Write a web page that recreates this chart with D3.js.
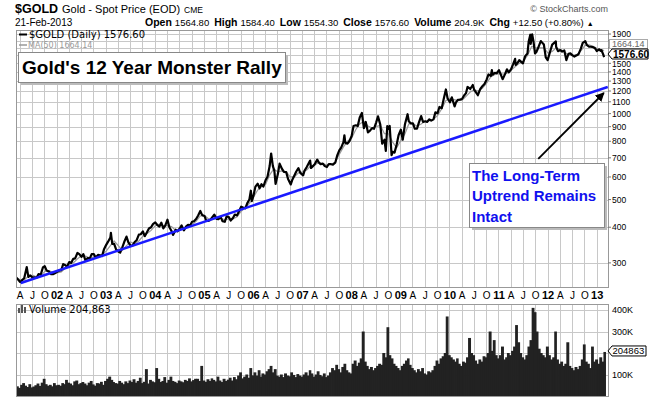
<!DOCTYPE html>
<html><head><meta charset="utf-8">
<script src="https://cdn.jsdelivr.net/npm/d3@7"></script>
<style>body{margin:0;background:#fff}svg{display:block}text{font-family:"Liberation Sans",Arial,sans-serif}</style>
</head><body><svg id="c" width="650" height="397"></svg>
<script>
// ---------- DATA ----------
const goldClose = [
["2001-03-01",267],["2001-03-15",263],["2001-04-01",257],["2001-04-15",261],["2001-05-01",265],["2001-05-20",290],["2001-06-01",268],["2001-06-15",271],["2001-07-01",267],["2001-07-15",267],["2001-08-01",266],["2001-08-15",274],["2001-09-01",273],["2001-09-17",289],["2001-10-01",292],["2001-10-15",282],["2001-11-01",280],["2001-11-15",274],["2001-12-01",274],["2001-12-15",276],
["2002-01-01",279],["2002-01-15",282],["2002-02-01",283],["2002-02-15",297],["2002-03-01",295],["2002-03-15",291],["2002-04-01",302],["2002-04-15",300],["2002-05-01",310],["2002-05-15",311],["2002-06-01",325],["2002-06-15",322],["2002-07-01",315],["2002-07-15",322],["2002-08-01",305],["2002-08-15",312],["2002-09-01",311],["2002-09-15",322],["2002-10-01",322],["2002-10-15",313],["2002-11-01",320],["2002-11-15",319],["2002-12-01",317],["2002-12-15",334],
["2003-01-01",347],["2003-01-15",356],["2003-02-01",368],["2003-02-05",382],["2003-02-15",350],["2003-03-01",350],["2003-03-15",335],["2003-04-01",329],["2003-04-15",326],["2003-05-01",340],["2003-05-15",355],["2003-06-01",371],["2003-06-15",354],["2003-07-01",345],["2003-07-15",345],["2003-08-01",355],["2003-08-15",360],["2003-09-01",377],["2003-09-15",378],["2003-10-01",387],["2003-10-15",372],["2003-11-01",385],["2003-11-15",396],["2003-12-01",400],["2003-12-15",410],
["2004-01-01",416],["2004-01-15",408],["2004-02-01",402],["2004-02-15",415],["2004-03-01",396],["2004-03-15",405],["2004-04-01",425],["2004-04-15",400],["2004-05-01",388],["2004-05-12",376],["2004-06-01",392],["2004-06-15",387],["2004-07-01",396],["2004-07-15",406],["2004-08-01",390],["2004-08-15",401],["2004-09-01",408],["2004-09-15",405],["2004-10-01",418],["2004-10-15",420],["2004-11-01",428],["2004-11-15",440],["2004-12-01",456],["2004-12-15",441],
["2005-01-01",438],["2005-01-15",421],["2005-02-01",421],["2005-02-15",425],["2005-03-01",434],["2005-03-15",443],["2005-04-01",428],["2005-04-15",427],["2005-05-01",435],["2005-05-15",420],["2005-06-01",418],["2005-06-15",437],["2005-07-01",434],["2005-07-15",422],["2005-08-01",431],["2005-08-15",443],["2005-09-01",440],["2005-09-15",455],["2005-10-01",472],["2005-10-15",469],["2005-11-01",466],["2005-11-15",485],["2005-12-01",500],["2005-12-12",537],["2005-12-20",494],
["2006-01-01",517],["2006-01-15",555],["2006-02-01",568],["2006-02-15",547],["2006-03-01",566],["2006-03-15",555],["2006-04-01",585],["2006-04-15",601],["2006-05-01",655],["2006-05-12",725],["2006-05-25",655],["2006-06-05",630],["2006-06-14",567],["2006-07-01",614],["2006-07-14",668],["2006-08-01",640],["2006-08-15",625],["2006-09-01",624],["2006-09-15",590],["2006-10-05",565],["2006-10-15",584],["2006-11-01",607],["2006-11-15",627],["2006-12-01",644],["2006-12-15",620],
["2007-01-05",608],["2007-01-15",630],["2007-02-01",650],["2007-02-26",685],["2007-03-05",645],["2007-03-15",652],["2007-04-01",665],["2007-04-20",690],["2007-05-01",675],["2007-05-15",665],["2007-06-01",668],["2007-06-15",655],["2007-07-01",650],["2007-07-15",666],["2007-08-01",665],["2007-08-15",663],["2007-09-01",673],["2007-09-15",712],["2007-10-01",743],["2007-10-15",760],["2007-11-01",795],["2007-11-08",840],["2007-11-15",790],["2007-12-01",785],["2007-12-15",800],
["2008-01-01",835],["2008-01-15",905],["2008-02-01",910],["2008-02-15",905],["2008-03-01",970],["2008-03-17",1005],["2008-04-01",890],["2008-04-15",935],["2008-05-01",860],["2008-05-15",870],["2008-06-01",890],["2008-06-15",885],["2008-07-01",930],["2008-07-15",978],["2008-08-01",915],["2008-08-15",785],["2008-09-01",810],["2008-09-11",740],["2008-09-22",905],["2008-10-01",885],["2008-10-10",905],["2008-10-24",715],["2008-11-01",735],["2008-11-15",730],["2008-12-01",780],["2008-12-15",840],
["2009-01-01",878],["2009-01-15",810],["2009-02-01",920],["2009-02-20",995],["2009-03-01",940],["2009-03-15",925],["2009-04-01",925],["2009-04-15",885],["2009-05-01",885],["2009-05-15",930],["2009-06-01",980],["2009-06-15",935],["2009-07-01",940],["2009-07-15",935],["2009-08-01",955],["2009-08-15",945],["2009-09-01",955],["2009-09-15",1010],["2009-10-01",1003],["2009-10-15",1055],["2009-11-01",1045],["2009-11-15",1120],["2009-12-02",1215],["2009-12-15",1130],
["2010-01-01",1096],["2010-01-15",1140],["2010-02-05",1060],["2010-02-15",1095],["2010-03-01",1118],["2010-03-15",1120],["2010-04-01",1125],["2010-04-15",1155],["2010-05-01",1180],["2010-05-12",1240],["2010-06-01",1220],["2010-06-20",1260],["2010-07-01",1210],["2010-07-28",1160],["2010-08-15",1220],["2010-09-01",1250],["2010-09-15",1270],["2010-10-01",1315],["2010-10-15",1372],["2010-11-01",1355],["2010-11-09",1420],["2010-11-15",1370],["2010-12-01",1390],["2010-12-15",1385],
["2011-01-01",1420],["2011-01-28",1320],["2011-02-15",1375],["2011-03-01",1430],["2011-03-15",1395],["2011-04-01",1430],["2011-04-15",1485],["2011-05-01",1555],["2011-05-05",1480],["2011-05-15",1495],["2011-06-01",1540],["2011-06-28",1500],["2011-07-15",1590],["2011-08-01",1625],["2011-08-10",1790],["2011-08-22",1890],["2011-08-25",1755],["2011-09-05",1895],["2011-09-15",1785],["2011-09-26",1625],["2011-10-05",1640],["2011-10-15",1680],["2011-11-08",1795],["2011-11-15",1780],["2011-12-01",1745],["2011-12-15",1575],["2011-12-29",1540],
["2012-01-15",1640],["2012-02-01",1745],["2012-02-28",1790],["2012-03-01",1715],["2012-03-15",1655],["2012-04-01",1670],["2012-04-15",1650],["2012-05-01",1665],["2012-05-16",1540],["2012-06-01",1620],["2012-06-15",1625],["2012-07-01",1600],["2012-07-15",1585],["2012-08-01",1600],["2012-08-15",1615],["2012-09-01",1690],["2012-09-15",1770],["2012-10-04",1795],["2012-10-15",1740],["2012-11-01",1715],["2012-11-15",1715],["2012-12-01",1710],["2012-12-15",1695],["2012-12-28",1657],
["2013-01-15",1680],["2013-01-25",1660],["2013-02-01",1670],["2013-02-15",1610],["2013-02-21",1576.6]
];
// 50-day moving average, one value per month start from Mar 2001, last value on 21-Feb-2013
const ma50Start = "2001-03-01";
const ma50 = [
265,262,261,270,272,268,270,280,282,278,
277,279,287,296,300,310,318,317,312,315,318,320,
330,345,358,345,332,345,355,350,358,372,380,390,
405,410,405,405,402,390,390,398,402,408,420,438,
440,428,425,432,430,425,428,428,435,455,468,485,
510,540,555,565,610,640,625,630,625,600,600,620,
625,635,655,660,675,668,660,665,675,720,765,800,
820,880,920,940,905,890,900,910,850,850,795,760,
805,850,920,920,905,920,940,945,955,985,1040,1110,
1130,1120,1110,1115,1150,1190,1210,1200,1230,1280,1345,1370,
1380,1375,1385,1420,1460,1500,1525,1600,1720,1700,1700,1700,
1630,1650,1700,1680,1650,1600,1600,1610,1660,1730,1740,1720,
1690,1672
];
const ma50Last = ["2013-02-21",1664.14];
// Volume (thousands), two values per month (1st & 16th) from Mar 2001
const volStart = "2001-03-01";
const volumeK = [
45,38,52,60,48,42,55,40,44,50,58,47,62,80,55,48,52,45,60,50,
52,48,60,55,75,62,58,50,68,72,55,60,65,58,50,62,70,54,48,60,58,66,52,70,
80,90,75,65,60,58,70,62,55,68,60,72,65,78,62,70,85,60,66,125,58,75,68,64,
130,80,65,70,88,62,75,90,70,66,60,72,68,64,75,70,82,68,74,80,80,70,140,72,
66,78,70,82,75,68,90,72,65,80,70,76,85,72,88,78,95,110,82,90,100,85,130,96,
110,95,120,90,105,100,115,125,140,110,125,95,90,100,88,105,95,92,110,98,88,102,95,90,
100,110,95,120,105,90,100,115,98,92,105,88,95,110,130,120,145,125,110,135,150,120,110,105,
150,165,140,155,175,300,160,140,125,135,120,130,140,150,145,200,180,320,190,175,150,140,130,120,
140,150,165,175,145,130,120,110,125,115,130,105,100,115,110,120,140,165,150,175,185,200,370,190,
180,170,160,175,150,140,160,155,180,270,200,190,165,150,170,160,185,180,200,300,210,260,190,175,
190,230,170,180,200,190,210,230,330,250,200,180,170,190,230,260,410,390,300,220,200,190,180,230,
190,170,180,300,170,150,160,140,150,250,140,130,120,135,125,140,170,240,160,150,130,230,160,170,
150,180,160,204.863
];
const priceGrid = [300,400,500,600,700,800,900,1000,1100,1200,1300,1400,1500,1600,1700,1800,1900];
const priceTickLabels = [300,400,500,600,700,800,900,1000,1100,1200,1300,1400,1500,1900];
const volGridK = [100,200,300,400];
const volTickK = [100,300,400];
const trendLine = [["2001-04-06",255],["2013-03-20",1240]];
const arrowLine = [["2011-10-20",694],["2013-02-19",1181]];
const titleText = "Gold's 12 Year Monster Rally";
const noteLines = ["The Long-Term","Uptrend Remains","Intact"];
const quote = [["Open","1564.80"],["High","1584.40"],["Low","1554.30"],["Close","1576.60"],["Volume","204.9K"],["Chg","+12.50 (+0.80%)"]];

// ---------- CHART ----------
const svg = d3.select("#c");
const parse = d3.timeParse("%Y-%m-%d");
const L = 16, R = 608, T = 30, B = 287, VT = 304, VB = 396;
const x = d3.scaleTime().domain([parse("2001-03-01"), parse("2013-03-22")]).range([L, R]);
const y = d3.scaleLog().domain([247, 1963]).range([B, T]);
const yv = d3.scaleLinear().domain([0, 428]).range([VB, VT]);

svg.append("rect").attr("width",650).attr("height",397).attr("fill","#fff");
const defs = svg.append("defs");
defs.append("clipPath").attr("id","cp").append("rect").attr("x",L).attr("y",T).attr("width",R-L).attr("height",B-T);
defs.append("clipPath").attr("id","cv").append("rect").attr("x",L).attr("y",VT).attr("width",R-L).attr("height",VB-VT);
const mk = defs.append("marker").attr("id","ah").attr("viewBox","0 0 10 10").attr("refX",9).attr("refY",5)
  .attr("markerWidth",5).attr("markerHeight",5).attr("orient","auto");
mk.append("path").attr("d","M0,0L10,5L0,10z").attr("fill","#000");

const qTicks = x.ticks(d3.timeMonth.every(3)).filter(d => d >= x.domain()[0] && d <= x.domain()[1]);
const gridC = "#c8c8c8";
const g = svg.append("g");
g.selectAll(".vg").data(qTicks).join("line").attr("x1",d=>x(d)).attr("x2",d=>x(d)).attr("y1",T).attr("y2",B).attr("stroke",gridC).attr("stroke-width",1).attr("shape-rendering","crispEdges");
g.selectAll(".hg").data(priceGrid).join("line").attr("x1",L).attr("x2",R).attr("y1",d=>Math.round(y(d))+0.5).attr("y2",d=>Math.round(y(d))+0.5).attr("stroke",gridC);
g.selectAll(".vg2").data(qTicks).join("line").attr("x1",d=>x(d)).attr("x2",d=>x(d)).attr("y1",VT).attr("y2",VB).attr("stroke",gridC).attr("shape-rendering","crispEdges");
g.selectAll(".hg2").data(volGridK).join("line").attr("x1",L).attr("x2",R).attr("y1",d=>Math.round(yv(d))+0.5).attr("y2",d=>Math.round(yv(d))+0.5).attr("stroke",gridC);

const ms = parse(ma50Start);
const maPts = ma50.map((v,i)=>[d3.timeMonth.offset(ms,i), v]).concat([[parse(ma50Last[0]), ma50Last[1]]]);
const line = d3.line().x(d=>x(d[0])).y(d=>y(d[1]));
svg.append("path").datum(maPts).attr("clip-path","url(#cp)").attr("d",line).attr("fill","none").attr("stroke","#999").attr("stroke-width",1.2);
const pPts = goldClose.map(d=>[parse(d[0]), d[1]]);
svg.append("path").datum(pPts).attr("clip-path","url(#cp)").attr("d",line).attr("fill","none").attr("stroke","#000").attr("stroke-width",2.2).attr("stroke-linejoin","round");
svg.append("path").datum(trendLine.map(d=>[parse(d[0]),d[1]])).attr("clip-path","url(#cp)").attr("d",line).attr("fill","none").attr("stroke","#1a1aff").attr("stroke-width",2.5);
svg.append("path").datum(arrowLine.map(d=>[parse(d[0]),d[1]])).attr("d",line).attr("fill","none").attr("stroke","#000").attr("stroke-width",1.8).attr("marker-end","url(#ah)");

// volume bars
const vs = parse(volStart);
const vDate = i => d3.timeDay.offset(d3.timeMonth.offset(vs, Math.floor(i/2)), (i%2)*15);
svg.append("g").attr("clip-path","url(#cv)").selectAll("rect").data(volumeK).join("rect")
  .attr("x",(d,i)=>x(vDate(i))).attr("width",(d,i)=>x(vDate(i+1))-x(vDate(i))+0.8)
  .attr("y",d=>yv(d)).attr("height",d=>VB-yv(d)).attr("fill","#222");

svg.append("rect").attr("x",L+0.5).attr("y",T+0.5).attr("width",R-L).attr("height",B-T).attr("fill","none").attr("stroke","#999");
svg.append("rect").attr("x",L+0.5).attr("y",VT+0.5).attr("width",R-L).attr("height",VB-VT).attr("fill","none").attr("stroke","#999");

// right price axis
const ax = svg.append("g");
ax.selectAll(".pt").data(priceGrid).join("line").attr("x1",R).attr("x2",R+3).attr("y1",d=>y(d)).attr("y2",d=>y(d)).attr("stroke","#777");
ax.selectAll(".pl").data(priceTickLabels).join("text").attr("x",R+4).attr("y",d=>y(d)+3.2).attr("font-size",8.5).attr("fill","#000").text(d=>d);
ax.selectAll(".vl").data(volTickK).join("text").attr("x",R+4).attr("y",d=>yv(d)+3.2).attr("font-size",9).text(d=>d+"K");

// bottom date labels
svg.append("g").selectAll("text").data(qTicks).join("text")
  .attr("x",d=>x(d)).attr("y",299).attr("text-anchor","middle")
  .attr("font-size",d=>d.getMonth()===0?11:10).attr("font-weight",d=>d.getMonth()===0?"bold":"normal")
  .text(d=>d.getMonth()===0 ? d3.timeFormat("%y")(d) : d3.timeFormat("%b")(d)[0]);

// value boxes at right
svg.append("rect").attr("x",609.5).attr("y",39.5).attr("width",38).attr("height",9).attr("fill","#fff").attr("stroke","#aaa");
svg.append("text").attr("x",612).attr("y",47).attr("font-size",9).attr("fill","#666").text(ma50Last[1].toFixed(2));
const lastP = goldClose[goldClose.length-1][1];
const lpY = 54;
svg.append("path").attr("d",`M608,${lpY} L612,${lpY-5} L648,${lpY-5} L648,${lpY+5} L612,${lpY+5} Z`).attr("fill","#fff").attr("stroke","#000");
svg.append("text").attr("x",613).attr("y",lpY+4).attr("font-size",10).attr("font-weight","bold").text(lastP.toFixed(2));
const lastV = volumeK[volumeK.length-1];
const lvY = yv(lastV) - 1;
svg.append("path").attr("d",`M608,${lvY} L612,${lvY-5} L646,${lvY-5} L646,${lvY+5} L612,${lvY+5} Z`).attr("fill","#fff").attr("stroke","#000");
svg.append("text").attr("x",612.5).attr("y",lvY+3.5).attr("font-size",9.5).text(Math.round(lastV*1000));

// legends
svg.append("line").attr("x1",19).attr("x2",27).attr("y1",34.5).attr("y2",34.5).attr("stroke","#000").attr("stroke-width",2);
svg.append("text").attr("x",29).attr("y",38).attr("font-size",10).style("font-family","'DejaVu Sans'").text("$GOLD (Daily) " + lastP.toFixed(2));
svg.append("line").attr("x1",19).attr("x2",27).attr("y1",45).attr("y2",45).attr("stroke","#999").attr("stroke-width",1.5);
svg.append("text").attr("x",28).attr("y",48).attr("font-size",8).attr("fill","#999").style("font-family","'DejaVu Sans'").text("MA(50) " + ma50Last[1].toFixed(2));
const vi = svg.append("g").attr("fill","#555");
vi.append("rect").attr("x",18).attr("y",308).attr("width",2).attr("height",5);
vi.append("rect").attr("x",21).attr("y",305).attr("width",2).attr("height",8);
vi.append("rect").attr("x",24).attr("y",307).attr("width",2).attr("height",6);
svg.append("text").attr("x",29).attr("y",313).attr("font-size",10).style("font-family","'DejaVu Sans'").text("Volume " + d3.format(",")(Math.round(lastV*1000)));

// title box
svg.append("rect").attr("x",21).attr("y",55).attr("width",267).attr("height",30).attr("fill","#bbb");
svg.append("rect").attr("x",18.5).attr("y",52.5).attr("width",267).attr("height",30).attr("fill","#fff").attr("stroke","#888");
svg.append("text").attr("x",22).attr("y",74).attr("font-size",19).attr("font-weight","bold").text(titleText);
// note box
svg.append("rect").attr("x",472).attr("y",166).attr("width",135).attr("height",64).attr("fill","#bbb");
svg.append("rect").attr("x",469.5).attr("y",163.5).attr("width",135).attr("height",64).attr("fill","#fff").attr("stroke","#888");
svg.append("g").selectAll("text").data(noteLines).join("text").attr("x",472).attr("y",(d,i)=>181+i*20.3)
  .attr("font-size",15).attr("font-weight","bold").attr("fill","#1010ee").text(d=>d);

// header
const h1 = svg.append("text").attr("x",15).attr("y",13);
h1.append("tspan").attr("font-size",12.5).attr("font-weight","bold").text("$GOLD");
h1.append("tspan").attr("dx",4).attr("font-size",11).text("Gold - Spot Price (EOD)");
h1.append("tspan").attr("dx",4).attr("font-size",8.5).text("CME");
svg.append("text").attr("x",608).attr("y",12).attr("text-anchor","end").attr("font-size",9).attr("fill","#555").text("© StockCharts.com");
svg.append("text").attr("x",15).attr("y",25.5).attr("font-size",10).text("21-Feb-2013");
const qt = svg.append("text").attr("x",145).attr("y",25.5);
quote.forEach((q,i)=>{
  qt.append("tspan").attr("dx", i===0?0:5).attr("font-size",10.5).attr("font-weight","bold").text(q[0]);
  qt.append("tspan").attr("dx",3).attr("font-size",9.5).text(q[1]);
});
qt.append("tspan").attr("dx",3).attr("font-size",7).text("▲");
</script></body></html>
